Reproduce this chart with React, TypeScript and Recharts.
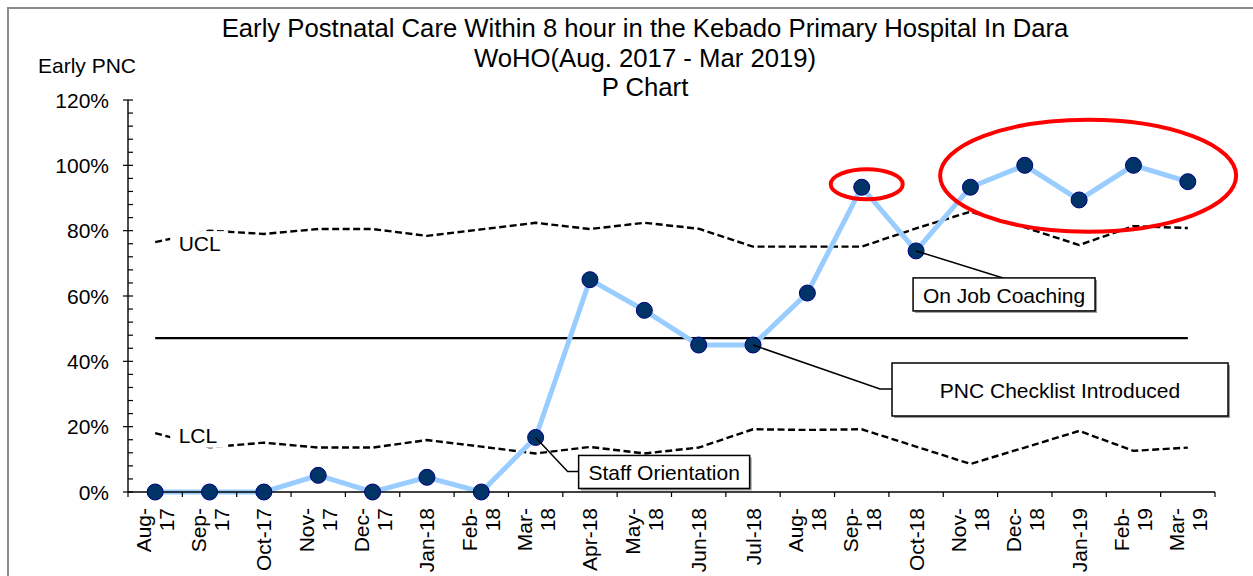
// P chart of early postnatal care (within 8 hours), Kebado Primary Hospital.
import React from 'react'
import {
  ComposedChart,
  Line,
  XAxis,
  YAxis,
  ReferenceLine,
  ReferenceDot,
} from 'recharts'

const months = [
  'Aug-17', 'Sep-17', 'Oct-17', 'Nov-17', 'Dec-17', 'Jan-18', 'Feb-18', 'Mar-18', 'Apr-18', 'May-18',
  'Jun-18', 'Jul-18', 'Aug-18', 'Sep-18', 'Oct-18', 'Nov-18', 'Dec-18', 'Jan-19', 'Feb-19', 'Mar-19',
]

// how Excel wrapped each category label
const monthLabels = [
  ['Aug-', '17'], ['Sep-', '17'], ['Oct-17'], ['Nov-', '17'], ['Dec-', '17'], ['Jan-18'], ['Feb-', '18'],
  ['Mar-', '18'], ['Apr-18'], ['May-', '18'], ['Jun-18'], ['Jul-18'], ['Aug-', '18'], ['Sep-', '18'],
  ['Oct-18'], ['Nov-', '18'], ['Dec-', '18'], ['Jan-19'], ['Feb-', '19'], ['Mar-', '19'],
]

const earlyPnc = [0, 0, 0, 5.1, 0, 4.5, 0, 16.7, 65, 55.6, 45, 45, 60.9, 93.3, 73.8, 93.3, 100, 89.4, 100, 95]
const ucl = [76.5, 80, 79, 80.5, 80.5, 78.4, 80.4, 82.4, 80.5, 82.4, 80.6, 75.1, 75.1, 75.1, 80.7, 85.8, 81, 75.6, 81.4, 80.8]
const lcl = [18, 13.7, 15.1, 13.6, 13.6, 15.9, 13.9, 11.8, 13.8, 11.8, 13.6, 19.2, 19, 19.2, 13.9, 8.6, 13.6, 18.7, 12.6, 13.6]
const centerLine = 47.1

const yTicks = [
  0, 4, 8, 12, 16, 20, 24, 28, 32, 36, 40, 44, 48, 52, 56, 60, 64, 68, 72, 76, 80,
  84, 88, 92, 96, 100, 104, 108, 112, 116, 120,
]

const titleLines = [
  'Early Postnatal Care Within 8 hour in the Kebado Primary Hospital In Dara',
  'WoHO(Aug. 2017 - Mar 2019)',
  'P Chart',
]

const W = 1253
const H = 576
const MARGIN = { top: 100, right: 38, bottom: 0, left: 0 }
const Y_AXIS_W = 128
const X_AXIS_H = 84
const AXIS_X = MARGIN.left + Y_AXIS_W
const PLOT_BOTTOM = H - X_AXIS_H
const BAND = (W - AXIS_X - MARGIN.right) / months.length
const FONT = '"Liberation Sans", Arial, sans-serif'
const FS = 21

const data = months.map((m, i) => ({ month: m, pnc: earlyPnc[i], ucl: ucl[i], lcl: lcl[i] }))

function MonthTick(props: any) {
  const { x, payload } = props
  const i = months.indexOf(payload.value)
  const lines = monthLabels[i] || [payload.value]
  const top = PLOT_BOTTOM + 16
  const offsets = lines.length === 1 ? [0] : [-11.5, 11.5]
  return (
    <g>
      <line x1={x - BAND / 2} x2={x - BAND / 2} y1={PLOT_BOTTOM} y2={PLOT_BOTTOM + 5} stroke="#000" strokeWidth={1.2} />
      {i === months.length - 1 && (
        <line x1={x + BAND / 2} x2={x + BAND / 2} y1={PLOT_BOTTOM} y2={PLOT_BOTTOM + 5} stroke="#000" strokeWidth={1.2} />
      )}
      {lines.map((t, k) => (
        <text
          key={k}
          x={x + offsets[k]}
          y={top}
          transform={`rotate(-90, ${x + offsets[k]}, ${top})`}
          textAnchor="end"
          dominantBaseline="central"
          fontSize={FS}
          fontFamily={FONT}
          fill="#000"
        >
          {t}
        </text>
      ))}
    </g>
  )
}

function PercentTick(props: any) {
  const { y, payload } = props
  const v = payload.value
  const major = v % 20 === 0
  return (
    <g>
      <line x1={major ? AXIS_X - 5 : AXIS_X} x2={AXIS_X + 5} y1={y} y2={y} stroke="#000" strokeWidth={1.2} />
      {major && (
        <text x={109} y={y} textAnchor="end" dominantBaseline="central" fontSize={FS} fontFamily={FONT} fill="#000">
          {`${v}%`}
        </text>
      )}
    </g>
  )
}

// text label sitting on a control limit, with white behind it
const limitLabel = (text: string, dy: number) => (p: any) => (
  <g>
    <rect x={p.cx + 15} y={p.cy + dy - 12} width={58} height={24} fill="#fff" />
    <text x={p.cx + 23.5} y={p.cy + dy} dominantBaseline="central" fontSize={FS} fontFamily={FONT} fill="#000">
      {text}
    </text>
  </g>
)

const ellipse = (dx: number, dy: number, rx: number, ry: number) => (p: any) => (
  <ellipse cx={p.cx + dx} cy={p.cy + dy} rx={rx} ry={ry} fill="none" stroke="#ff0000" strokeWidth={4} />
)

// callout: leader from the point, then a boxed caption
const callout = (
  text: string,
  path: Array<[number, number]>,
  box: { x: number; y: number; w: number; h: number },
) => (p: any) => {
  const pts = [[0, 0], ...path].map(([a, b]) => `${p.cx + a},${p.cy + b}`).join(' ')
  const bx = p.cx + box.x
  const by = p.cy + box.y
  return (
    <g>
      <polyline points={pts} fill="none" stroke="#000" strokeWidth={1.5} />
      <rect x={bx + 2} y={by + 2} width={box.w} height={box.h} fill="#9a9a9a" />
      <rect x={bx} y={by} width={box.w} height={box.h} fill="#fff" stroke="#000" strokeWidth={1.5} />
      <text
        x={bx + box.w / 2}
        y={by + box.h / 2 + 1}
        textAnchor="middle"
        dominantBaseline="central"
        fontSize={FS}
        fontFamily={FONT}
        fill="#000"
      >
        {text}
      </text>
    </g>
  )
}

export default function App() {
  return (
    <div style={{ position: 'absolute', left: 0, top: 0, width: W, height: H, overflow: 'hidden', background: '#fff' }}>
      <div
        style={{
          position: 'absolute',
          left: 7,
          top: 7,
          width: W + 20,
          height: H + 20,
          border: '2px solid #8c8c8c',
        }}
      />
      <div
        style={{
          position: 'absolute',
          left: 0,
          top: 14,
          width: 1290,
          textAlign: 'center',
          fontFamily: FONT,
          fontSize: 25.7,
          lineHeight: '29.5px',
          color: '#000',
        }}
      >
        {titleLines.map((t) => (
          <div key={t}>{t}</div>
        ))}
      </div>
      <div
        style={{
          position: 'absolute',
          left: 38,
          top: 54,
          fontFamily: FONT,
          fontSize: FS,
          lineHeight: '24px',
          color: '#000',
        }}
      >
        Early PNC
      </div>
      <div style={{ position: 'absolute', left: 0, top: 0 }}>
        <ComposedChart width={W} height={H} data={data} margin={MARGIN}>
          <XAxis
            dataKey="month"
            scale="band"
            interval={0}
            height={X_AXIS_H}
            tickLine={false}
            tick={<MonthTick />}
            axisLine={{ stroke: '#000', strokeWidth: 1.4 }}
          />
          <YAxis
            type="number"
            domain={[0, 120]}
            ticks={yTicks}
            interval={0}
            width={Y_AXIS_W}
            tickLine={false}
            tick={<PercentTick />}
            axisLine={{ stroke: '#000', strokeWidth: 1.4 }}
          />
          <ReferenceLine
            segment={[
              { x: months[0], y: centerLine },
              { x: months[months.length - 1], y: centerLine },
            ]}
            stroke="#000"
            strokeWidth={2.2}
          />
          <Line dataKey="ucl" stroke="#000" strokeWidth={2.4} strokeDasharray="7 3.5" dot={false} isAnimationActive={false} />
          <Line dataKey="lcl" stroke="#000" strokeWidth={2.4} strokeDasharray="7 3.5" dot={false} isAnimationActive={false} />
          <Line
            dataKey="pnc"
            stroke="#99ccff"
            strokeWidth={5}
            dot={{ r: 8, fill: '#003366', stroke: '#000080', strokeWidth: 1 }}
            isAnimationActive={false}
          />
          <ReferenceDot x={months[0]} y={ucl[0]} r={0} shape={limitLabel('UCL', 1)} />
          <ReferenceDot x={months[0]} y={lcl[0]} r={0} shape={limitLabel('LCL', 2.5)} />
          <ReferenceDot
            x="Mar-18"
            y={earlyPnc[7]}
            shape={callout('Staff Orientation', [[32, 34], [43, 34]], { x: 43, y: 18, w: 171, h: 33 })}
          />
          <ReferenceDot
            x="Jul-18"
            y={earlyPnc[11]}
            shape={callout('PNC Checklist Introduced', [[127, 44], [139, 44]], { x: 139, y: 18, w: 336, h: 53 })}
          />
          <ReferenceDot
            x="Oct-18"
            y={earlyPnc[14]}
            shape={callout('On Job Coaching', [[87, 27]], { x: -3, y: 27, w: 182, h: 33 })}
          />
          <ReferenceDot x="Sep-18" y={earlyPnc[13]} shape={ellipse(5, -3, 36, 15)} />
          <ReferenceDot x="Jan-19" y={95} shape={ellipse(9, -6, 148, 56)} />
        </ComposedChart>
      </div>
    </div>
  )
}
